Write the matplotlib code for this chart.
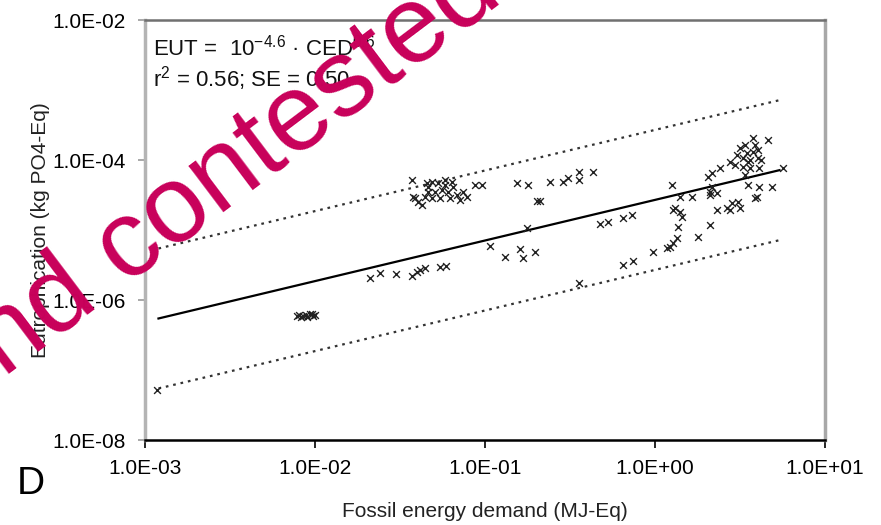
import matplotlib
matplotlib.use("Agg")
import matplotlib.pyplot as plt
import numpy as np
from matplotlib.ticker import FixedLocator, FuncFormatter, NullLocator

plt.rcParams["font.family"] = ["Liberation Sans", "DejaVu Sans"]
plt.rcParams["mathtext.fontset"] = "custom"
plt.rcParams["mathtext.rm"] = "Liberation Sans"
plt.rcParams["mathtext.it"] = "Liberation Sans:italic"

# ─── data ───────────────────────────────────────────────────────────────────

# fossil energy demand, MJ-Eq
CED = [
    1.18e-3,
    7.8e-3, 8.1e-3, 8.5e-3, 8.9e-3, 9.3e-3, 9.7e-3, 1.0e-2, 8.3e-3, 9.0e-3, 9.6e-3,
    0.0211, 0.0241, 0.0299, 0.0372, 0.0398, 0.0415, 0.0444, 0.0543, 0.0590,
    0.107, 0.131, 0.161, 0.167, 0.197, 0.177, 0.357, 0.474, 0.529, 0.648, 0.732, 0.648, 0.743,
    0.0372, 0.0456, 0.0488, 0.0529, 0.0582, 0.0648, 0.0558, 0.0508, 0.0462, 0.0605,
    0.0684, 0.0743, 0.0784, 0.0873, 0.0960, 0.0377, 0.0403, 0.0426, 0.0388, 0.0444,
    0.0488, 0.0543, 0.0622, 0.0713, 0.0462, 0.0582, 0.0640,
    0.154, 0.179, 0.202, 0.211, 0.241, 0.288, 0.308, 0.357, 0.357, 0.432,
    3.77, 4.62, 3.16, 3.48, 3.77, 3.29, 3.62, 3.03, 2.76, 4.04, 4.21, 4.09, 3.29, 3.62,
    3.38, 5.66, 2.41, 2.16, 2.05, 1.26, 2.16, 2.11, 2.32, 3.52, 4.09, 4.88, 3.98, 1.65,
    1.40, 1.31, 1.40, 1.28, 1.44, 1.36, 2.11, 1.79, 1.35, 1.28, 1.23, 1.18, 0.973,
    2.32, 2.65, 2.84, 3.08, 3.16, 3.87, 2.76, 2.11,
    3.38, 3.87, 3.52, 4.04, 2.95,
]

# eutrophication, kg PO4-Eq
EUT = [
    5.2e-8,
    6.0e-7, 6.2e-7, 5.9e-7, 6.1e-7, 6.3e-7, 6.0e-7, 6.2e-7, 5.7e-7, 5.8e-7, 6.4e-7,
    2.06e-6, 2.43e-6, 2.35e-6, 2.20e-6, 2.51e-6, 2.68e-6, 2.86e-6, 2.96e-6, 3.06e-6,
    5.9e-6, 4.1e-6, 5.4e-6, 4.0e-6, 4.85e-6, 1.07e-5, 1.75e-6, 1.22e-5, 1.30e-5, 1.48e-5, 1.64e-5, 3.16e-6, 3.6e-6,
    5.18e-5, 4.69e-5, 4.85e-5, 4.69e-5, 4.40e-5, 4.11e-5, 3.73e-5, 3.49e-5, 3.49e-5, 3.49e-5,
    3.16e-5, 3.49e-5, 2.96e-5, 4.40e-5, 4.40e-5, 2.96e-5, 2.51e-5, 2.28e-5, 2.86e-5, 2.96e-5,
    2.86e-5, 2.86e-5, 2.86e-5, 2.68e-5, 4.11e-5, 5.18e-5, 4.85e-5,
    4.69e-5, 4.40e-5, 2.60e-5, 2.60e-5, 4.85e-5, 4.85e-5, 5.53e-5, 5.18e-5, 6.74e-5, 6.74e-5,
    2.06e-4, 1.93e-4, 1.48e-4, 1.26e-4, 1.30e-4, 1.07e-4, 1.00e-4, 1.18e-4, 9.36e-5, 1.39e-4, 1.00e-4, 7.69e-5, 7.94e-5, 7.69e-5,
    6.1e-5, 7.69e-5, 7.69e-5, 6.52e-5, 5.72e-5, 4.40e-5, 4.11e-5, 3.49e-5, 3.38e-5, 4.40e-5, 4.11e-5, 4.11e-5, 2.96e-5, 2.96e-5,
    2.96e-5, 2.06e-5, 1.81e-5, 1.93e-5, 1.53e-5, 1.10e-5, 1.18e-5, 7.94e-6, 7.69e-6, 6.52e-6, 5.72e-6, 5.53e-6, 4.85e-6,
    1.93e-5, 2.06e-5, 2.43e-5, 2.51e-5, 2.06e-5, 2.86e-5, 1.93e-5, 3.16e-5,
    1.64e-4, 1.64e-4, 9.36e-5, 1.07e-4, 8.5e-5,
]

# regression in log space: log10(EUT) = A + B * log10(CED), band = +/- 2 SE
FIT_A      = -4.57
FIT_B      = 0.58
FIT_BAND   = 1.0
FIT_XRANGE = (1.2e-3, 5.4)

X_TICKS = [1e-3, 1e-2, 1e-1, 1e0, 1e1]
Y_TICKS = [1e-8, 1e-6, 1e-4, 1e-2]


# ─── figure ─────────────────────────────────────────────────────────────────

fig = plt.figure(figsize=(8.81, 5.25), dpi=100, facecolor="white")
ax = fig.add_axes([0.1646, 0.1619, 0.7718, 0.8])

ax.set_xscale("log")
ax.set_yscale("log")
ax.set_xlim(1e-3, 1e1)
ax.set_ylim(1e-8, 1e-2)

# fit line and prediction band
xf = np.logspace(np.log10(FIT_XRANGE[0]), np.log10(FIT_XRANGE[1]), 50)
yf = 10 ** (FIT_A + FIT_B * np.log10(xf))
ax.plot(xf, yf, color="black", lw=1.6, zorder=2)
ax.plot(xf, yf * 10 ** FIT_BAND, color="#333333", lw=1.6, ls=(0, (1.2, 2.2)), zorder=2)
ax.plot(xf, yf / 10 ** FIT_BAND, color="#333333", lw=1.6, ls=(0, (1.2, 2.2)), zorder=2)

# data points
ax.scatter(CED, EUT, marker="x", s=24, color="#222222", linewidths=1.0, zorder=3)

# axes cosmetics
fmt = FuncFormatter(lambda v, _: f"{v:.1E}")
ax.xaxis.set_major_locator(FixedLocator(X_TICKS))
ax.yaxis.set_major_locator(FixedLocator(Y_TICKS))
ax.xaxis.set_minor_locator(NullLocator())
ax.yaxis.set_minor_locator(NullLocator())
ax.xaxis.set_major_formatter(fmt)
ax.yaxis.set_major_formatter(fmt)
ax.tick_params(axis="x", direction="out", length=6, width=1.2, colors="black",
               labelsize=15, pad=8)
ax.tick_params(axis="y", direction="out", length=5, width=1.2, color="#999999",
               labelcolor="black", labelsize=15, pad=9)

ax.spines["left"].set_color("#b4b4b4")
ax.spines["left"].set_linewidth(2.5)
ax.spines["right"].set_color("#a8a8a8")
ax.spines["right"].set_linewidth(2.5)
ax.spines["top"].set_color("#707070")
ax.spines["top"].set_linewidth(1.8)
ax.spines["bottom"].set_color("black")
ax.spines["bottom"].set_linewidth(1.8)

ax.set_xlabel("Fossil energy demand (MJ-Eq)", fontsize=15, color="#222222", labelpad=17)
ax.set_ylabel("Eutrophication (kg PO4-Eq)", fontsize=15, color="#222222")
ax.yaxis.set_label_coords(-0.14, 0.5)

# equation
ax.text(0.012, 0.965, "EUT =  10$^{-4.6}$ · CED$^{0.6}$", transform=ax.transAxes,
        ha="left", va="top", fontsize=16, color="#111111")
ax.text(0.012, 0.895, "r$^{2}$ = 0.56; SE = 0.50", transform=ax.transAxes,
        ha="left", va="top", fontsize=16, color="#111111")

# panel letter
fig.text(0.035, 0.078, "D", fontsize=28, ha="center", va="center", color="black")

# watermark
fig.text(0.004, 0.279, "nd contested", fontsize=79, color="#C8005A",
         rotation=37, rotation_mode="anchor", ha="left", va="baseline", zorder=10)

fig.savefig("out.png", dpi=100)
